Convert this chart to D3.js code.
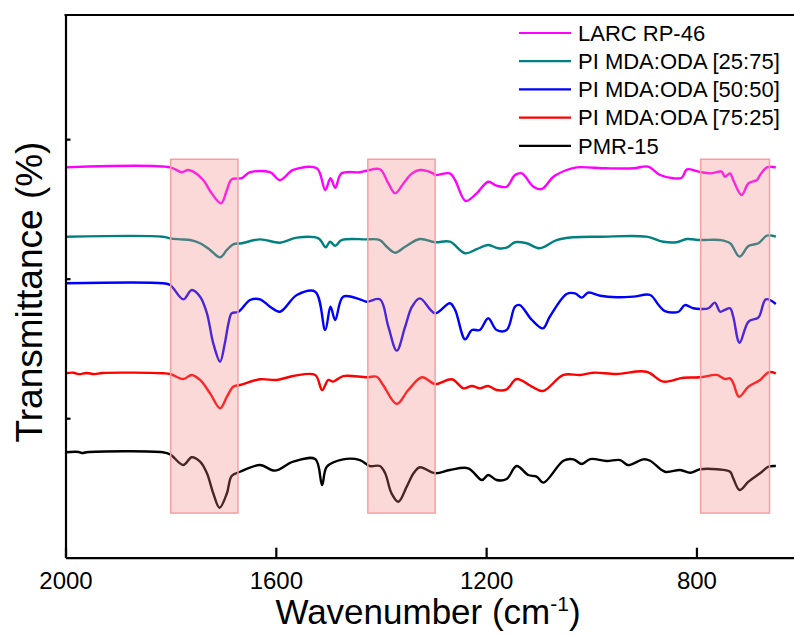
<!DOCTYPE html>
<html>
<head>
<meta charset="utf-8">
<script src="https://cdn.jsdelivr.net/npm/d3@7"></script>
<style>
  body { margin: 0; background: #fff; }
  svg { display: block; font-family: Arial, "Liberation Sans", sans-serif; }
</style>
</head>
<body>
<script>
// FTIR spectra, stacked with offsets (wavenumber, transmittance in arbitrary %)
var larcRP46 = [[2000,279.8],[1801,279.8],[1779,276.3],[1767,277.9],[1757,276.7],[1738,270.7],[1722,261.2],[1704,254.0],[1693,263.6],[1684,271.2],[1665,272.0],[1649,276.3],[1611,276.3],[1592,270.7],[1567,277.9],[1522,279.1],[1506,263.6],[1496,272.0],[1487,265.2],[1475,275.5],[1440,276.3],[1427,277.4],[1402,278.4],[1386,268.4],[1373,261.2],[1357,268.4],[1341,275.5],[1326,277.9],[1301,275.5],[1297,274.3],[1269,275.5],[1259,270.7],[1239,255.7],[1218,261.2],[1196,269.5],[1180,266.7],[1161,265.9],[1145,274.3],[1132,275.5],[1110,265.9],[1094,264.3],[1072,273.1],[1047,277.9],[1028,279.8],[971,279.1],[920,279.1],[892,280.3],[869,274.3],[844,272.0],[828,272.4],[818,278.4],[796,276.7],[774,275.5],[752,276.7],[746,273.1],[736,275.5],[730,270.7],[714,260.0],[701,268.4],[685,270.7],[679,274.3],[666,279.8],[649,279.8]];

var pi2575 = [[2000,230.1],[1815,230.1],[1801,228.9],[1782,228.2],[1763,227.7],[1744,225.4],[1725,220.6],[1706,215.3],[1693,220.6],[1681,224.6],[1665,225.4],[1630,228.2],[1592,225.8],[1560,229.4],[1519,228.9],[1505,222.5],[1497,226.5],[1487,223.6],[1475,227.7],[1430,228.2],[1402,227.7],[1389,222.9],[1373,218.6],[1354,222.9],[1326,228.4],[1297,226.1],[1269,226.5],[1240,218.2],[1218,221.1],[1196,224.1],[1177,221.8],[1161,222.2],[1145,226.1],[1123,225.4],[1098,221.8],[1066,227.7],[1034,229.7],[983,230.1],[895,230.1],[863,226.5],[838,226.1],[818,228.4],[793,227.7],[755,227.7],[736,225.4],[718,215.8],[701,223.4],[682,225.4],[666,230.8],[649,230.1]];

var pi5050 = [[2000,196.7],[1815,196.7],[1801,195.5],[1776,185.2],[1760,191.9],[1744,187.1],[1731,175.2],[1719,153.7],[1706,140.5],[1697,153.7],[1690,168.0],[1684,175.2],[1671,176.3],[1649,184.7],[1630,185.2],[1611,179.9],[1592,176.3],[1560,188.3],[1525,190.7],[1506,163.2],[1496,179.9],[1487,170.4],[1472,187.1],[1440,185.2],[1427,183.5],[1402,185.2],[1386,165.6],[1370,148.4],[1354,165.6],[1341,179.9],[1326,185.9],[1297,175.2],[1269,182.4],[1259,177.6],[1240,156.5],[1227,163.2],[1212,163.2],[1196,171.6],[1180,163.2],[1161,163.2],[1145,179.9],[1136,181.1],[1113,170.4],[1092,164.4],[1079,172.7],[1047,189.0],[1031,189.5],[1018,186.4],[1006,190.0],[983,187.8],[952,186.7],[920,187.1],[888,188.3],[872,181.1],[860,176.8],[834,176.3],[822,181.1],[806,178.8],[793,178.3],[777,178.8],[765,182.8],[755,176.3],[746,177.6],[736,178.8],[730,172.7],[718,154.1],[701,169.2],[682,172.3],[668,185.2],[649,181.9]];

var pi7525 = [[2000,132.2],[1985,132.6],[1975,131.6],[1960,132.4],[1945,131.6],[1930,132.4],[1815,132.2],[1801,131.7],[1776,128.1],[1760,131.0],[1744,127.4],[1725,117.8],[1706,107.1],[1693,115.4],[1681,122.6],[1668,123.8],[1630,127.9],[1598,127.4],[1567,130.2],[1525,131.0],[1512,120.2],[1500,127.4],[1491,126.2],[1472,130.2],[1427,129.3],[1408,129.7],[1396,123.8],[1370,110.2],[1348,120.2],[1322,129.3],[1297,124.5],[1265,127.9],[1243,121.4],[1227,123.1],[1212,121.4],[1196,123.1],[1180,120.2],[1161,120.7],[1142,128.1],[1113,122.6],[1092,119.5],[1053,131.0],[1021,131.0],[996,132.6],[952,131.7],[895,133.3],[863,126.2],[825,129.0],[793,129.3],[761,131.0],[746,128.1],[736,128.6],[730,125.1],[719,115.4],[701,122.6],[679,127.4],[663,132.9],[649,132.2]];

var pmr15 = [[2000,75.6],[1975,75.8],[1968,75.0],[1960,75.6],[1815,75.6],[1801,74.1],[1776,66.4],[1760,72.0],[1744,68.8],[1731,60.5],[1719,46.2],[1707,35.8],[1693,46.2],[1684,58.6],[1668,61.6],[1630,66.4],[1602,62.4],[1567,68.8],[1525,70.7],[1512,52.1],[1503,65.2],[1472,70.5],[1440,70.0],[1421,65.7],[1402,65.7],[1392,60.5],[1380,46.2],[1367,40.1],[1351,50.9],[1338,60.5],[1326,64.8],[1297,60.5],[1269,62.9],[1234,64.1],[1208,55.7],[1196,59.3],[1180,55.7],[1161,56.4],[1142,65.7],[1120,59.3],[1104,58.1],[1091,53.8],[1053,69.5],[1034,70.5],[1018,67.2],[1002,70.7],[971,69.3],[945,70.0],[930,66.4],[901,70.5],[888,69.5],[860,61.6],[831,62.9],[812,60.9],[793,63.4],[761,63.4],[736,61.6],[730,56.9],[718,48.5],[701,54.5],[679,60.5],[663,65.2],[649,65.7]];

var seriesNames = ["LARC RP-46", "PI MDA:ODA [25:75]", "PI MDA:ODA [50:50]", "PI MDA:ODA [75:25]", "PMR-15"];
var seriesColors = ["#ff00ff", "#008080", "#0000ff", "#ff0000", "#000000"];
var seriesData = [larcRP46, pi2575, pi5050, pi7525, pmr15];

// highlighted bands (wavenumber from, to) and their vertical extent
var bands = [[1800, 1672], [1425, 1297], [792, 661]];
var bandTop = 285.6, bandBottom = 32;

var xTicks = [2000, 1600, 1200, 800];
var yTicks = [100, 200, 300];

var width = 794,
    height = 636;

var margin = {top: 15, left: 65.5, bottom: 557.7};

var x = d3.scaleLinear().domain([2000, 600]).range([margin.left, 801.6]);
var y = d3.scaleLinear().domain([0, 389]).range([margin.bottom, margin.top]);

var svg = d3.select("body").append("svg")
    .attr("width", width)
    .attr("height", height);

var line = d3.line()
    .curve(d3.curveCatmullRom.alpha(0.5))
    .x(function(d) { return x(d[0]); })
    .y(function(d) { return y(d[1]); });

svg.selectAll(".spec")
    .data(seriesData)
    .enter().append("path")
    .attr("class", "spec")
    .attr("d", line)
    .style("fill", "none")
    .style("stroke", function(d, i) { return seriesColors[i]; })
    .style("stroke-width", 2.4)
    .style("stroke-linejoin", "round");

// pink bands sit on top of the lines
svg.selectAll(".band")
    .data(bands)
    .enter().append("rect")
    .attr("class", "band")
    .attr("x", function(d) { return x(d[0]); })
    .attr("width", function(d) { return x(d[1]) - x(d[0]); })
    .attr("y", y(bandTop))
    .attr("height", y(bandBottom) - y(bandTop))
    .style("fill", "#f58080")
    .style("fill-opacity", 0.3)
    .style("stroke", "#f5a0a0")
    .style("stroke-width", 1.5);

// axes
var xAxis = svg.append("g")
    .attr("transform", "translate(0," + margin.bottom + ")")
    .call(d3.axisBottom(x).tickValues(xTicks).tickFormat(d3.format("d"))
      .tickSizeInner(-10).tickSizeOuter(0).tickPadding(14));

var yAxis = svg.append("g")
    .attr("transform", "translate(" + margin.left + ",0)")
    .call(d3.axisLeft(y).tickValues(yTicks).tickSizeInner(-5).tickSizeOuter(0).tickFormat(""));

svg.selectAll(".domain, .tick line")
    .style("stroke", "#000")
    .style("stroke-width", 2.2);

xAxis.selectAll("text")
    .style("font-size", "24px")
    .style("fill", "#000");

// top frame line
svg.append("line")
    .attr("x1", margin.left - 1)
    .attr("x2", 801.6)
    .attr("y1", y(389))
    .attr("y2", y(389))
    .style("stroke", "#000")
    .style("stroke-width", 2.2);

// axis titles
var xt = svg.append("text")
    .attr("x", 428)
    .attr("y", 624)
    .attr("text-anchor", "middle")
    .style("font-size", "35px");
xt.append("tspan").text("Wavenumber (cm");
xt.append("tspan").attr("dy", -13).style("font-size", "21px").text("-1");
xt.append("tspan").attr("dy", 13).text(")");

svg.append("text")
    .attr("transform", "translate(42,292) rotate(-90)")
    .attr("text-anchor", "middle")
    .style("font-size", "37px")
    .text("Transmittance (%)");

// legend
var legend = svg.selectAll(".legend")
    .data(seriesNames)
    .enter().append("g")
    .attr("class", "legend")
    .attr("transform", function(d, i) { return "translate(519," + (33 + i * 28.2) + ")"; });

legend.append("line")
    .attr("x1", 0)
    .attr("x2", 52)
    .style("stroke", function(d, i) { return seriesColors[i]; })
    .style("stroke-width", 2.2);

legend.append("text")
    .attr("x", 59)
    .attr("dy", "0.35em")
    .style("font-size", "22px")
    .text(function(d) { return d; });
</script>
</body>
</html>
